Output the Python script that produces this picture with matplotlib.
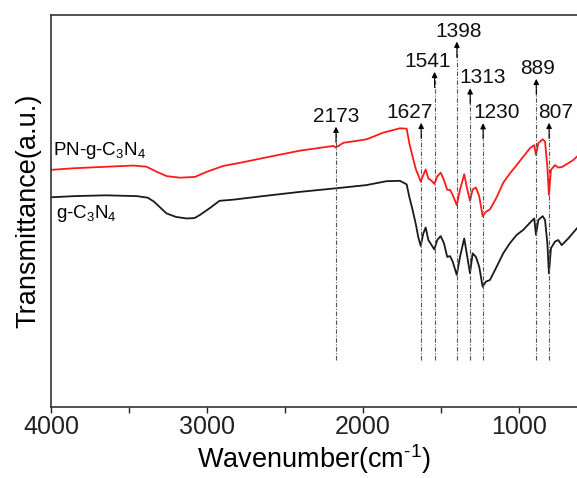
import numpy as np
import matplotlib
matplotlib.use('Agg')
import matplotlib.pyplot as plt

plt.rcParams['font.family'] = ['Liberation Sans', 'DejaVu Sans']
plt.rcParams['mathtext.fontset'] = 'custom'
plt.rcParams['mathtext.rm'] = 'Liberation Sans'
plt.rcParams['mathtext.it'] = 'Liberation Sans:italic'

# g-C3N4 (black)
wn_g = [4000, 3850, 3650, 3450, 3380, 3340, 3260, 3200, 3130, 3080, 3045, 2980,
        2920, 2830, 2620, 2400, 2173, 1980, 1850, 1763, 1720, 1703, 1682, 1660,
        1646, 1630, 1613, 1598, 1581, 1560, 1543, 1524, 1502, 1481, 1460, 1442,
        1425, 1399, 1378, 1351, 1335, 1314, 1297, 1276, 1255, 1233, 1212, 1186,
        1143, 1101, 1058, 1015, 972, 930, 902, 891, 876, 848, 833, 818, 808,
        795, 769, 748, 726, 684, 652, 628]
tr_g = [53.5, 53.8, 54.0, 53.8, 53.4, 52.4, 49.4, 48.5, 48.1, 48.2, 49.0, 50.8,
        52.6, 52.9, 53.9, 54.9, 55.8, 56.6, 57.6, 57.7, 56.8, 53.6, 50.3, 46.4,
        43.4, 41.1, 44.3, 45.8, 42.6, 41.3, 40.2, 42.6, 43.6, 41.8, 38.3, 38.5,
        37.1, 33.7, 38.3, 43.0, 39.2, 34.1, 39.2, 38.3, 35.8, 30.7, 32.0, 32.4,
        35.8, 39.2, 41.8, 43.9, 45.2, 47.0, 48.1, 43.9, 47.7, 48.7, 47.7, 41.8, 34.1,
        40.5, 42.2, 42.6, 41.3, 43.0, 44.5, 45.6]

# PN-g-C3N4 (red)
wn_pn = [4000, 3857, 3643, 3472, 3387, 3322, 3258, 3173, 3077, 3002, 2896, 2788,
         2617, 2404, 2190, 2173, 2126, 2040, 1976, 1870, 1763, 1720, 1703, 1682,
         1660, 1646, 1630, 1613, 1598, 1581, 1560, 1543, 1524, 1502, 1481, 1460,
         1442, 1425, 1399, 1378, 1351, 1335, 1314, 1297, 1276, 1255, 1233, 1212,
         1186, 1143, 1101, 1058, 1015, 972, 930, 902, 891, 876, 848, 833, 818,
         808, 795, 769, 748, 726, 684, 652, 628]
tr_pn = [60.5, 60.9, 61.3, 61.6, 61.3, 60.0, 58.9, 58.5, 58.7, 60.0, 61.5, 62.3,
         63.7, 65.4, 66.6, 66.2, 67.4, 67.9, 68.3, 70.0, 71.1, 71.0, 67.3, 63.9,
         60.5, 59.2, 57.5, 59.2, 60.6, 58.3, 57.7, 56.9, 58.8, 59.8, 57.9, 55.4,
         55.4, 54.1, 51.5, 55.4, 59.4, 56.2, 52.6, 55.5, 56.0, 53.8, 48.7, 49.8,
         50.4, 53.5, 57.2, 59.6, 61.7, 63.9, 66.0, 66.8, 64.3, 67.3, 68.3, 67.7, 61.3,
         54.1, 60.5, 61.7, 61.1, 61.2, 62.2, 63.0, 63.9]

# marked bands
peaks = [2173, 1627, 1541, 1398, 1313, 1230, 889, 807]
peak_tips = [71.5, 72.5, 85.5, 93.2, 81.3, 72.4, 83.7, 72.5]
line_bottom = 12
label_dx = [0, -8, -5, 1, 9, 9.5, 1, 5]  # points

fig = plt.figure(figsize=(5.77, 4.78), dpi=100)
ax = fig.add_axes([0.0884, 0.1485, 1 - 0.0884, 0.9686 - 0.1485])

ax.plot(wn_pn, tr_pn, color='#ff1a1a', lw=1.3)
ax.plot(wn_g, tr_g, color='#1a1a1a', lw=1.3)

for p, tip, dx in zip(peaks, peak_tips, label_dx):
    ax.plot([p, p], [line_bottom, tip - 1], ls=(0, (4, 1.5, 1, 1.5)),
            color='#555555', lw=0.8)
    ax.annotate('', xy=(p, tip), xytext=(p, tip - 4),
                arrowprops=dict(arrowstyle='-|>', color='k', lw=0.8,
                                mutation_scale=8, shrinkA=0, shrinkB=0))
    ax.annotate(str(p), xy=(p, tip), xytext=(dx, 3.5), textcoords='offset points',
                ha='center', va='baseline', fontsize=15, color='#111111')

ax.text(3985, 64.3, 'PN-g-C$_3$N$_4$', fontsize=13.5, va='baseline', ha='left')
ax.text(3968, 48.1, 'g-C$_3$N$_4$', fontsize=13.5, va='baseline', ha='left')

ax.set_xlim(4000, 628)
ax.set_ylim(0, 100)
ax.set_xticks([4000, 3000, 2000, 1000])
ax.set_xticks([3500, 2500, 1500], minor=True)
ax.tick_params(axis='x', which='both', direction='out', length=4, width=1,
               labelsize=18, pad=2, colors='#222222')
ax.tick_params(axis='y', left=False, labelleft=False)
ax.spines['right'].set_visible(False)
for s in ['left', 'bottom', 'top']:
    ax.spines[s].set_color('#333333')
    ax.spines[s].set_linewidth(1.2)

ax.set_xlabel(r'Wavenumber(cm$^{\text{-1}}$)', fontsize=19.5, labelpad=2)
ax.set_ylabel('Transmittance(a.u.)', fontsize=19.5, labelpad=7)

fig.savefig('out.png', dpi=100)
